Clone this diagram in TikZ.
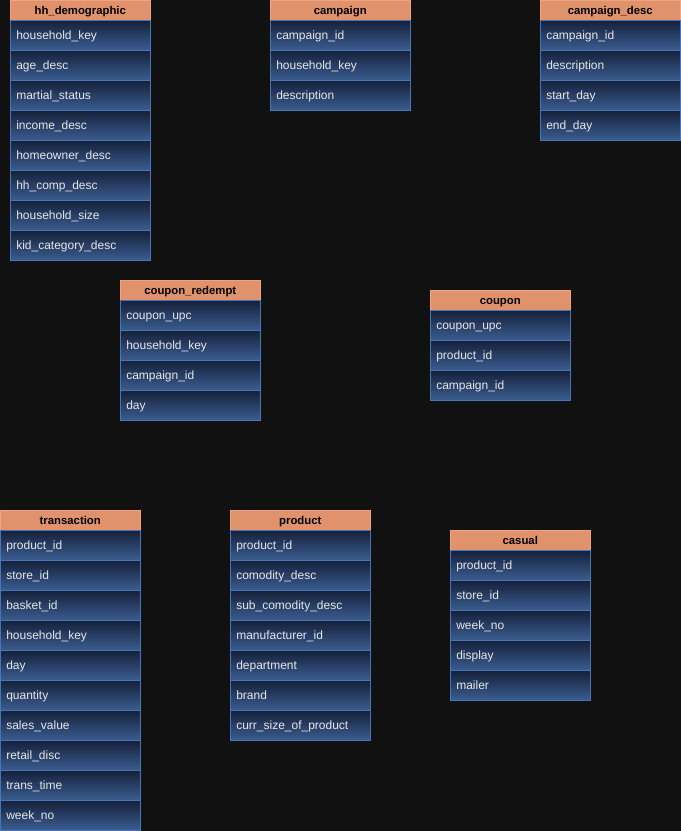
\documentclass[tikz,border=0pt]{standalone}
\usepackage{fontspec}
\setmainfont{Liberation Sans}
\definecolor{bg}{HTML}{111111}
\definecolor{hdrfill}{HTML}{E0926C}
\definecolor{hdrline}{HTML}{F0A580}
\definecolor{rowtop}{HTML}{16213A}
\definecolor{rowbot}{HTML}{3A5C90}
\definecolor{rowline}{HTML}{4676B5}
\definecolor{rowtext}{HTML}{E6E6E6}
\tikzset{
  hdr/.style={draw=hdrline, fill=hdrfill, minimum width=105pt, minimum height=15pt,
    inner sep=0pt, font=\bfseries\fontsize{8.5}{10}\selectfont, text=black, anchor=north west,
    text height=7pt, text depth=1pt},
  rowbox/.style={draw=rowline, top color=rowtop, bottom color=rowbot, minimum width=105pt,
    minimum height=22.5pt, inner xsep=4.5pt, inner ysep=0pt, text width=96pt, align=left,
    font=\fontsize{9}{10}\selectfont, text=rowtext, anchor=north west,
    text height=7.25pt, text depth=1.25pt}
}
\newcommand{\erdtab}[5]{%
  \node[hdr] (#1) at (#2,#3) {#4};
  \foreach \r [count=\i] in {#5} {
    \node[rowbox] (#1-\i) at (#2,{#3+20+30*(\i-1)}) {\r};
  }
}
\begin{document}
\begin{tikzpicture}[x=0.75pt,y=-0.75pt]
\fill[bg] (0,0) rectangle (681,831);
\useasboundingbox (0,0) rectangle (681,831);
\erdtab{hh}{10}{0}{hh\_demographic}{household\_key,age\_desc,martial\_status,income\_desc,homeowner\_desc,hh\_comp\_desc,household\_size,kid\_category\_desc}
\erdtab{camp}{270}{0}{campaign}{campaign\_id,household\_key,description}
\erdtab{cdesc}{540}{0}{campaign\_desc}{campaign\_id,description,start\_day,end\_day}
\erdtab{cred}{120}{280}{coupon\_redempt}{coupon\_upc,household\_key,campaign\_id,day}
\erdtab{coup}{430}{290}{coupon}{coupon\_upc,product\_id,campaign\_id}
\erdtab{trans}{0}{510}{transaction}{product\_id,store\_id,basket\_id,household\_key,day,quantity,sales\_value,retail\_disc,trans\_time,week\_no}
\erdtab{prod}{230}{510}{product}{product\_id,comodity\_desc,sub\_comodity\_desc,manufacturer\_id,department,brand,curr\_size\_of\_product}
\erdtab{cas}{450}{530}{casual}{product\_id,store\_id,week\_no,display,mailer}
\end{tikzpicture}
\end{document}
